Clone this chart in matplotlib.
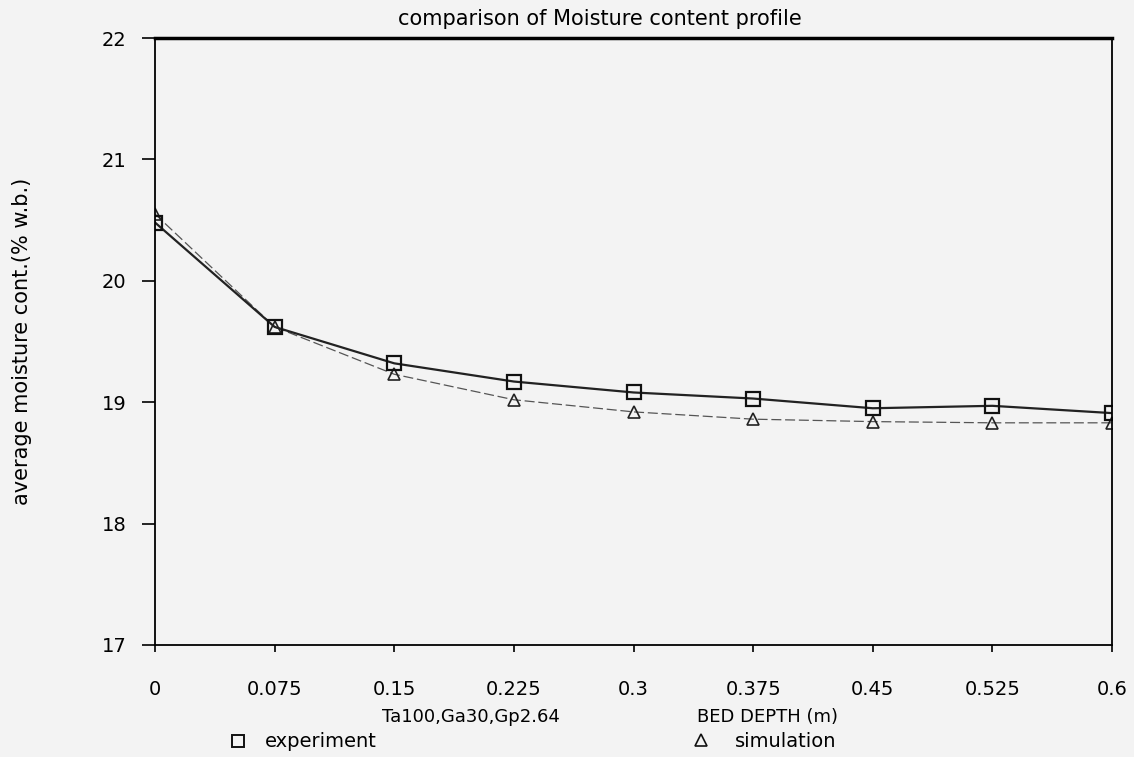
import matplotlib
matplotlib.use("Agg")
import matplotlib.pyplot as plt

# bed depth (m) and average moisture content (% w.b.)
depth = [0, 0.075, 0.15, 0.225, 0.3, 0.375, 0.45, 0.525, 0.6]
experiment = [20.48, 19.62, 19.32, 19.17, 19.08, 19.03, 18.95, 18.97, 18.91]
simulation = [20.55, 19.62, 19.23, 19.02, 18.92, 18.86, 18.84, 18.83, 18.83]

xticks = [0, 0.075, 0.15, 0.225, 0.3, 0.375, 0.45, 0.525, 0.6]
xlabels = ["0", "0.075", "0.15", "0.225", "0.3", "0.375", "0.45", "0.525", "0.6"]
yticks = [17, 18, 19, 20, 21, 22]

plt.rcParams['font.family'] = ['DejaVu Sans']

fig = plt.figure(figsize=(11.34, 7.57), dpi=100, facecolor='#f3f3f3')
ax = fig.add_axes([0.1367, 0.148, 0.8439, 0.8018])
ax.set_facecolor('#f3f3f3')

ax.plot(depth, simulation, color='#555555', lw=0.9, ls=(0, (8, 3)),
        marker='^', ms=8, mfc='none', mec='#222222', mew=1.2)
ax.plot(depth, experiment, color='#222222', lw=1.6,
        marker='s', ms=10, mfc='none', mec='#111111', mew=1.6)

ax.set_xlim(0, 0.6)
ax.set_ylim(17, 22)
ax.set_xticks(xticks)
ax.set_xticklabels(xlabels)
ax.set_yticks(yticks)
ax.tick_params(axis='x', length=5, width=1.2, direction='out', pad=20, labelsize=14)
ax.tick_params(axis='y', length=9.5, width=1.2, direction='out', pad=11, labelsize=14)
for side in ['left', 'bottom', 'right']:
    ax.spines[side].set_linewidth(1.3)
ax.spines['top'].set_linewidth(2.5)

ax.set_ylabel('average moisture cont.(% w.b.)', fontsize=15)
ax.yaxis.set_label_coords(-0.1285, 0.5)
fig.text(0.529, 0.975, 'comparison of Moisture content profile', ha='center', va='center', fontsize=15)

fig.text(0.415, 0.053, 'Ta100,Ga30,Gp2.64', ha='center', va='center', fontsize=13)
fig.text(0.677, 0.053, 'BED DEPTH (m)', ha='center', va='center', fontsize=13)

# legend row
fig.lines.append(plt.Line2D([0.21], [0.021], marker='s', ms=9, mfc='none', mec='#111111', mew=1.4,
                            transform=fig.transFigure, figure=fig))
fig.text(0.234, 0.021, 'experiment', ha='left', va='center', fontsize=14)
fig.lines.append(plt.Line2D([0.618], [0.023], marker='^', ms=8, mfc='none', mec='#111111', mew=1.2,
                            transform=fig.transFigure, figure=fig))
fig.text(0.648, 0.021, 'simulation', ha='left', va='center', fontsize=14)

fig.savefig('out.png', dpi=100, facecolor=fig.get_facecolor())
